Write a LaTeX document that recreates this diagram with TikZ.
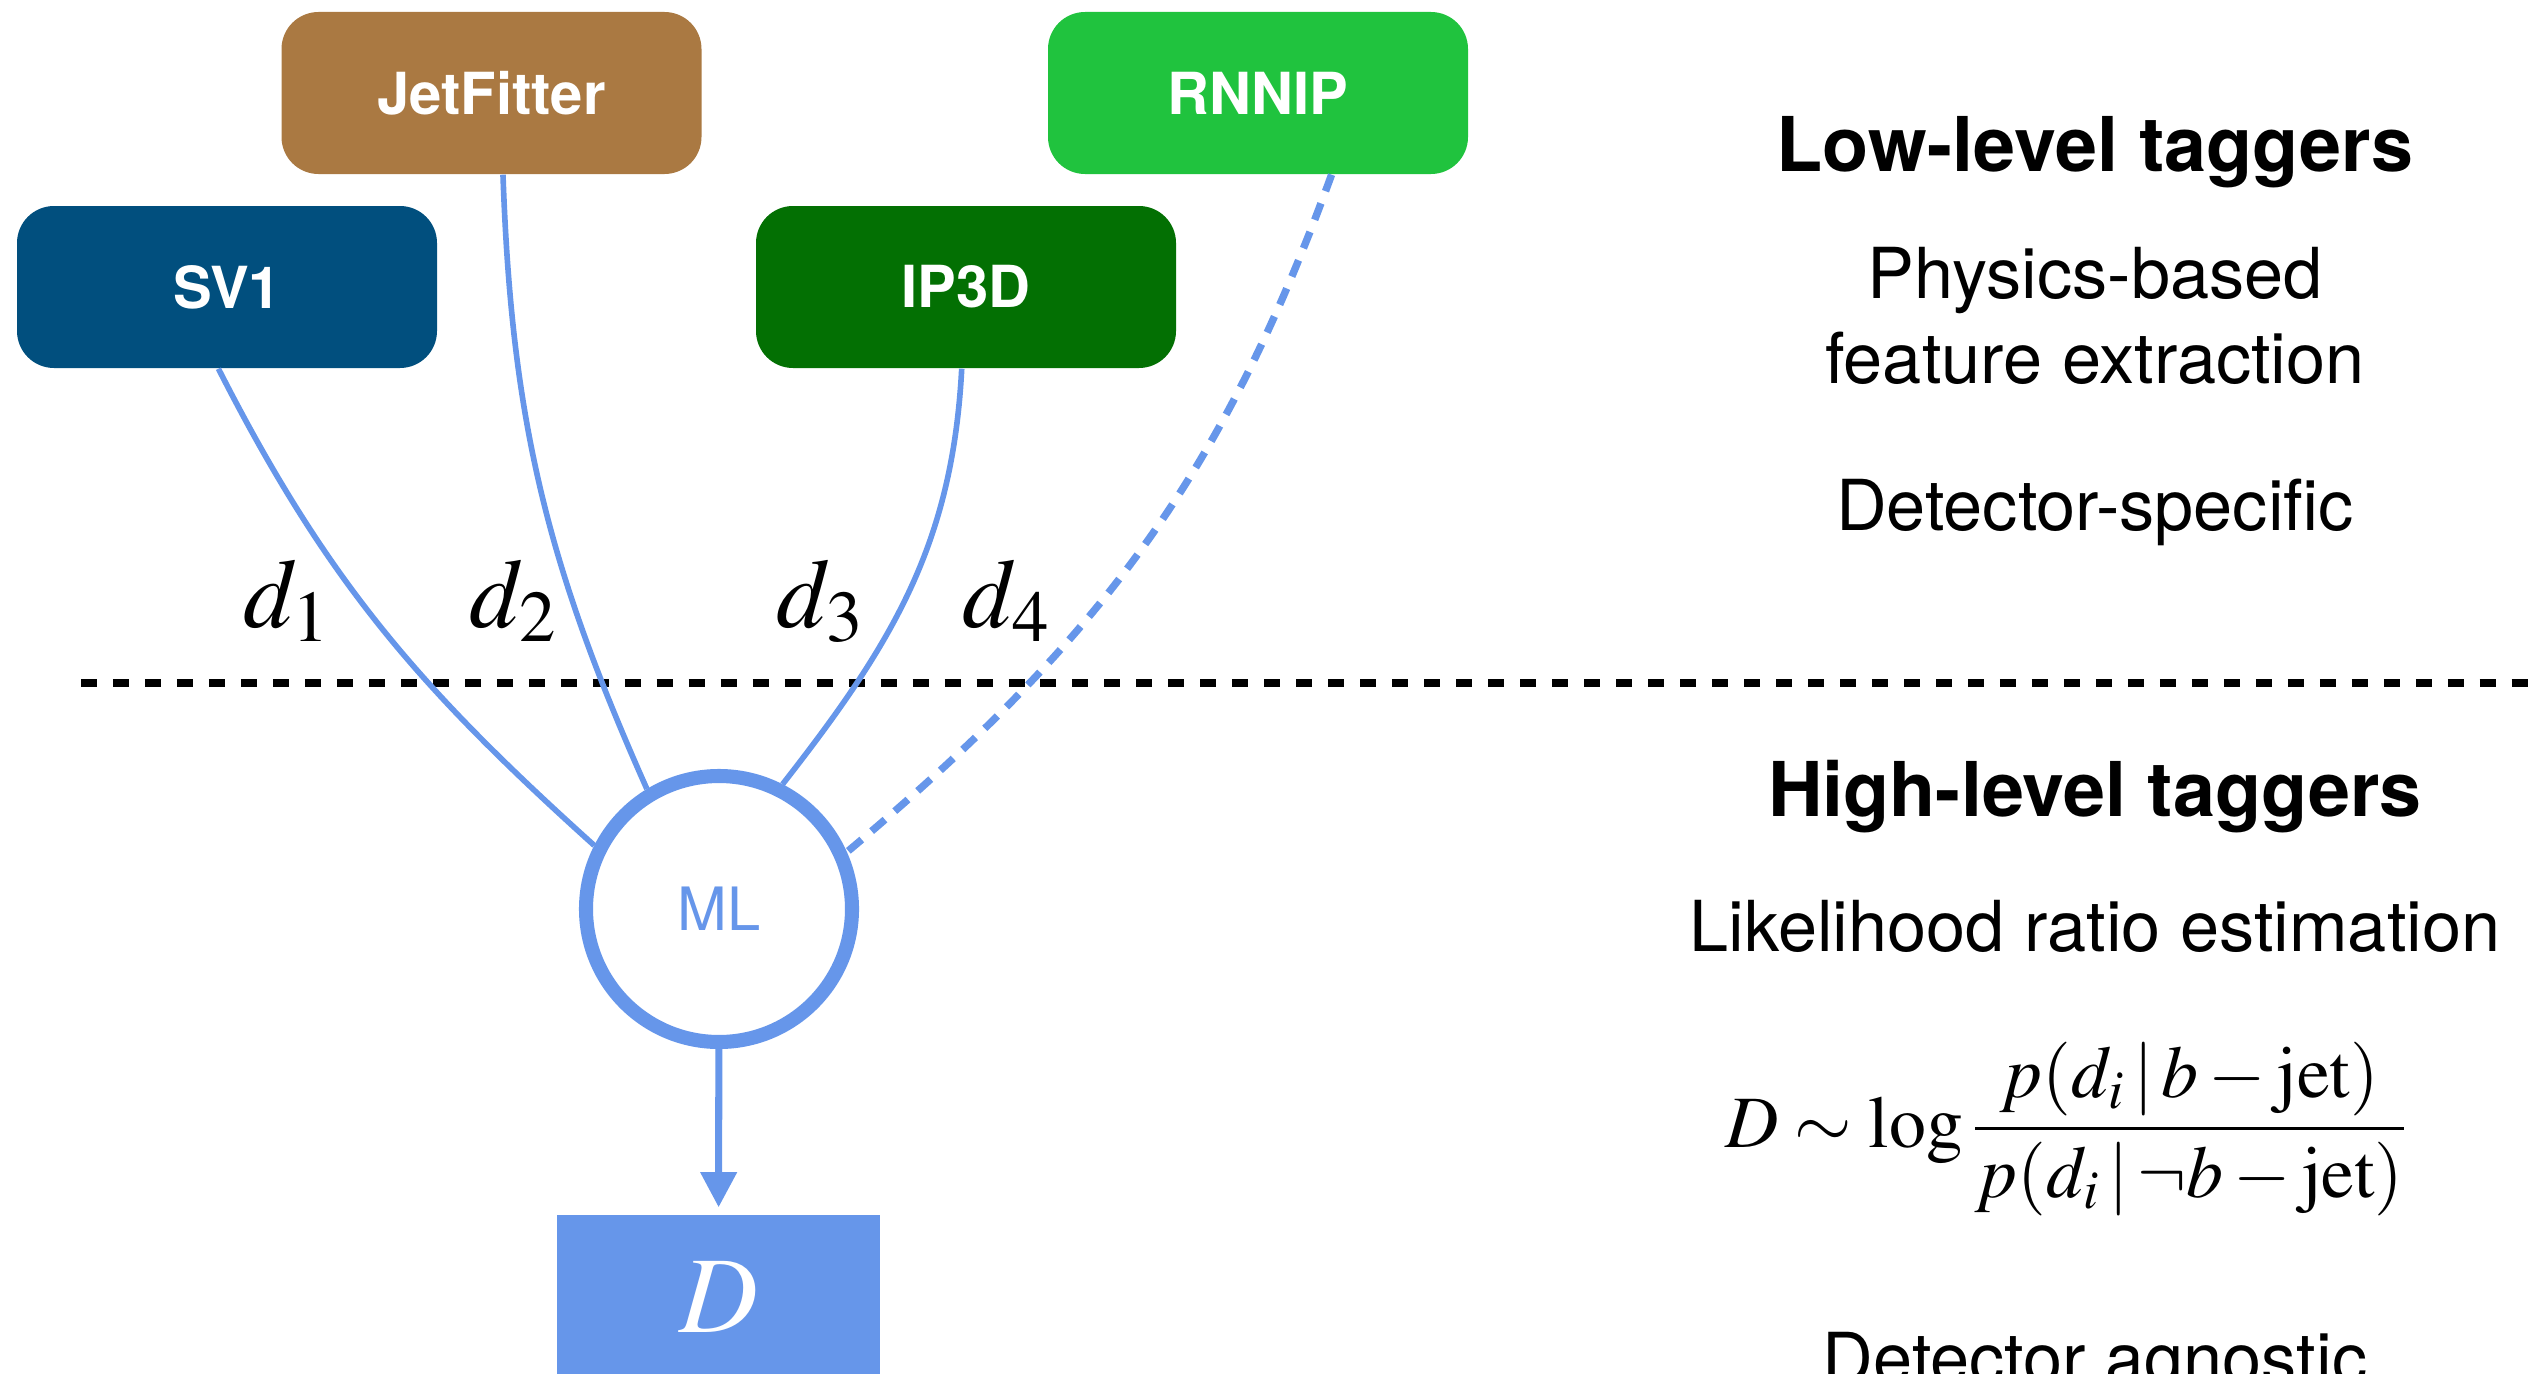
\documentclass[tikz,border=0pt]{standalone}
\usepackage{mathptmx}
\usepackage[no-math]{fontspec}
\setmainfont{TeX Gyre Heros}
\usetikzlibrary{arrows.meta}

\definecolor{svblue}{RGB}{1,79,126}
\definecolor{jfbrown}{RGB}{170,121,66}
\definecolor{ipgreen}{RGB}{3,112,3}
\definecolor{rnngreen}{RGB}{32,195,62}
\definecolor{mlblue}{RGB}{102,150,234}

\tikzset{
  tagger/.style={rounded corners=0.37cm, minimum width=4.2cm, minimum height=1.62cm,
    inner sep=0pt, text=white, font=\fontsize{16.5}{20}\selectfont\bfseries},
  feed/.style={draw=mlblue, line width=1.6pt},
  dlabel/.style={anchor=base, inner sep=0pt, font=\fontsize{28}{34}\selectfont},
  heading/.style={anchor=base, font=\fontsize{21.5}{26}\selectfont\bfseries},
  note/.style={anchor=base, align=center, font=\fontsize{20}{24.2}\selectfont},
}

\begin{document}
\begin{tikzpicture}
  \useasboundingbox (0,0) rectangle (25.34,-13.74);
  % Separator between low- and high-level
  \draw[line width=2.3pt, dash pattern=on 4.55pt off 4.55pt] (0.81,-6.83) -- (25.34,-6.83);
  % Low-level taggers
  \node[tagger, fill=svblue] (sv1) at (2.27,-2.87) {SV1};
  \node[tagger, fill=jfbrown] (jetfitter) at (4.915,-0.93) {JetFitter};
  \node[tagger, fill=ipgreen] (ip3d) at (9.66,-2.87) {IP3D};
  \node[tagger, fill=rnngreen] (rnnip) at (12.58,-0.93) {RNNIP};
  % Combination
  \node[circle, draw=mlblue, fill=white, line width=4pt, minimum size=2.66cm, inner sep=0pt,
    text=mlblue, font=\fontsize{17}{20}\selectfont] (ml) at (7.19,-9.09) {ML};
  \node[fill=mlblue, minimum width=3.23cm, minimum height=1.64cm, inner sep=0pt,
    text=white, font=\fontsize{31}{36}\selectfont] (dbox) at (7.185,-12.97) {$D$};
  % Inputs
  \draw[feed] (sv1.-96) to[out=-63, in=138] (ml.153);
  \draw[feed] (jetfitter.-82) to[out=-88, in=114] (ml.121);
  \draw[feed] (ip3d.-93) to[out=-93, in=52] (ml.63);
  \draw[feed, line width=2.1pt, dash pattern=on 5pt off 3.7pt] (rnnip.-48) to[out=-110, in=40] (ml.24);
  \draw[mlblue, line width=2pt, -{Triangle[width=10pt,length=10pt]}, shorten >=2pt] (ml) -- (dbox);
  % Discriminants
  \node[dlabel] (d1) at (2.87,-6.27) {$d_1$};
  \node[dlabel] (d2) at (5.135,-6.27) {$d_2$};
  \node[dlabel] (d3) at (8.205,-6.27) {$d_3$};
  \node[dlabel] (d4) at (10.065,-6.27) {$d_4$};
  % Right-hand notes
  \node[heading] (lowhead) at (20.95,-1.717) {Low-level taggers};
  \node[note] (physics) at (20.95,-3.833) {Physics-based\\feature extraction};
  \node[note] (specific) at (20.95,-5.30) {Detector-specific};
  \node[heading] (highhead) at (20.95,-8.16) {High-level taggers};
  \node[note] (likelihood) at (20.95,-9.51) {Likelihood ratio estimation};
  \node[anchor=base, font=\fontsize{21}{25}\selectfont] (formula) at (20.665,-11.47)
    {$\displaystyle D\sim\log\frac{p(d_i\,|\,b-\mathrm{jet})}{p(d_i\,|\,\neg b-\mathrm{jet})}$};
  \node[note] (agnostic) at (20.95,-13.83) {Detector agnostic};
\end{tikzpicture}
\end{document}
